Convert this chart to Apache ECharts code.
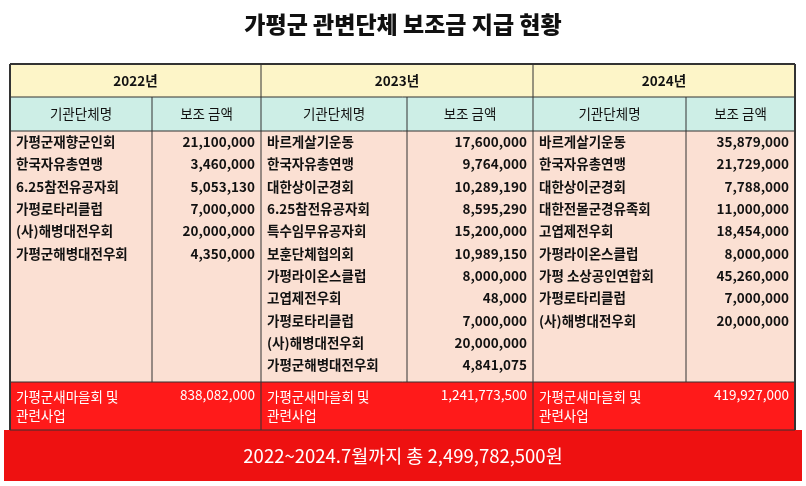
<!DOCTYPE html>
<html><head><meta charset="utf-8">
<script src="https://cdn.jsdelivr.net/npm/echarts@6/dist/echarts.min.js"></script>
<style>html,body{margin:0;padding:0;background:#fff}#c{width:806px;height:486px}</style>
</head><body><div id="c"></div>
<script>
// 제목
var title='가평군 관변단체 보조금 지급 현황';
var years=['2022년','2023년','2024년'];
var headers=['기관단체명','보조 금액'];
var names2022=['가평군재향군인회','한국자유총연맹','6.25참전유공자회','가평로타리클럽','(사)해병대전우회','가평군해병대전우회'];
var amounts2022=['21,100,000','3,460,000','5,053,130','7,000,000','20,000,000','4,350,000'];
var names2023=['바르게살기운동','한국자유총연맹','대한상이군경회','6.25참전유공자회','특수임무유공자회','보훈단체협의회','가평라이온스클럽','고엽제전우회','가평로타리클럽','(사)해병대전우회','가평군해병대전우회'];
var amounts2023=['17,600,000','9,764,000','10,289,190','8,595,290','15,200,000','10,989,150','8,000,000','48,000','7,000,000','20,000,000','4,841,075'];
var names2024=['바르게살기운동','한국자유총연맹','대한상이군경회','대한전몰군경유족회','고엽제전우회','가평라이온스클럽','가평 소상공인연합회','가평로타리클럽','(사)해병대전우회'];
var amounts2024=['35,879,000','21,729,000','7,788,000','11,000,000','18,454,000','8,000,000','45,260,000','7,000,000','20,000,000'];
var saemaulName='가평군새마을회 및\n관련사업';
var saemaulAmounts=['838,082,000','1,241,773,500','419,927,000'];
var totalText='2022~2024.7월까지 총 2,499,782,500원';

var font='"Noto Sans CJK KR", sans-serif';
// 열 경계
var xs=[10,152,261,407,533,686,795];
var yYear=64,yHead=97,yBody=131,yRed=382,yTotal=430,yEnd=481,rowH=22.3;
var els=[];
function rect(x,y,w,h,fill){els.push({type:'rect',shape:{x:x,y:y,width:w,height:h},style:{fill:fill},silent:true});}
function line(x1,y1,x2,y2,c,w){els.push({type:'line',shape:{x1:x1,y1:y1,x2:x2,y2:y2},style:{stroke:c||'#333',lineWidth:w||1},silent:true});}
function text(t,x,y,o){o=o||{};els.push({type:'text',x:x,y:y,style:{text:t,font:(o.weight||'bold')+' '+(o.size||13.5)+'px '+font,fill:o.color||'#111',align:o.align||'left',verticalAlign:'middle',lineHeight:o.lh||19},silent:true});}

els.push({type:'text',x:403,y:24,style:{text:title,font:'900 23px '+font,fill:'#111',align:'center',verticalAlign:'middle'}});
rect(10,yYear,785,yHead-yYear,'#fdf5c8');
rect(10,yHead,785,yBody-yHead,'#cdeee6');
rect(10,yBody,785,yRed-yBody,'#fbe0d3');
rect(10,yRed,785,yTotal-yRed,'#ff1a1a');
rect(4,yTotal,798,yEnd-yTotal,'#ee1111');

var names=[names2022,names2023,names2024];
var amounts=[amounts2022,amounts2023,amounts2024];
for(var k=0;k<3;k++){
  var a=xs[k*2],b=xs[k*2+1],c=xs[k*2+2];
  text(years[k],(a+c)/2,(yYear+yHead)/2,{align:'center'});
  text(headers[0],(a+b)/2,(yHead+yBody)/2,{align:'center',weight:'normal'});
  text(headers[1],(b+c)/2,(yHead+yBody)/2,{align:'center',weight:'normal'});
  names[k].forEach(function(n,i){
    var y=yBody+11+i*rowH;
    text(n,a+6,y);
    text(amounts[k][i],c-6,y,{align:'right'});
  });
  text(saemaulName,a+6,(yRed+yTotal)/2,{color:'#fff',weight:'normal'});
  text(saemaulAmounts[k],c-6,yRed+13,{color:'#fff',align:'right',weight:'normal'});
}
text(totalText,403,(yTotal+yEnd)/2,{color:'#fff',size:18.5,align:'center',weight:'normal'});

// 테두리
[yYear,yHead,yBody,yRed,yTotal].forEach(function(y){line(10,y,795,y,'#333',y==yYear?2:1);});
xs.forEach(function(x,i){
  if(i%2==0) line(x,yYear,x,yTotal,'#333',(i==0||i==6)?2:1);
  else line(x,yHead,x,yRed,'#333',1);
});

var chart=echarts.init(document.getElementById('c'));
chart.setOption({animation:false,graphic:{elements:els}});
</script></body></html>
